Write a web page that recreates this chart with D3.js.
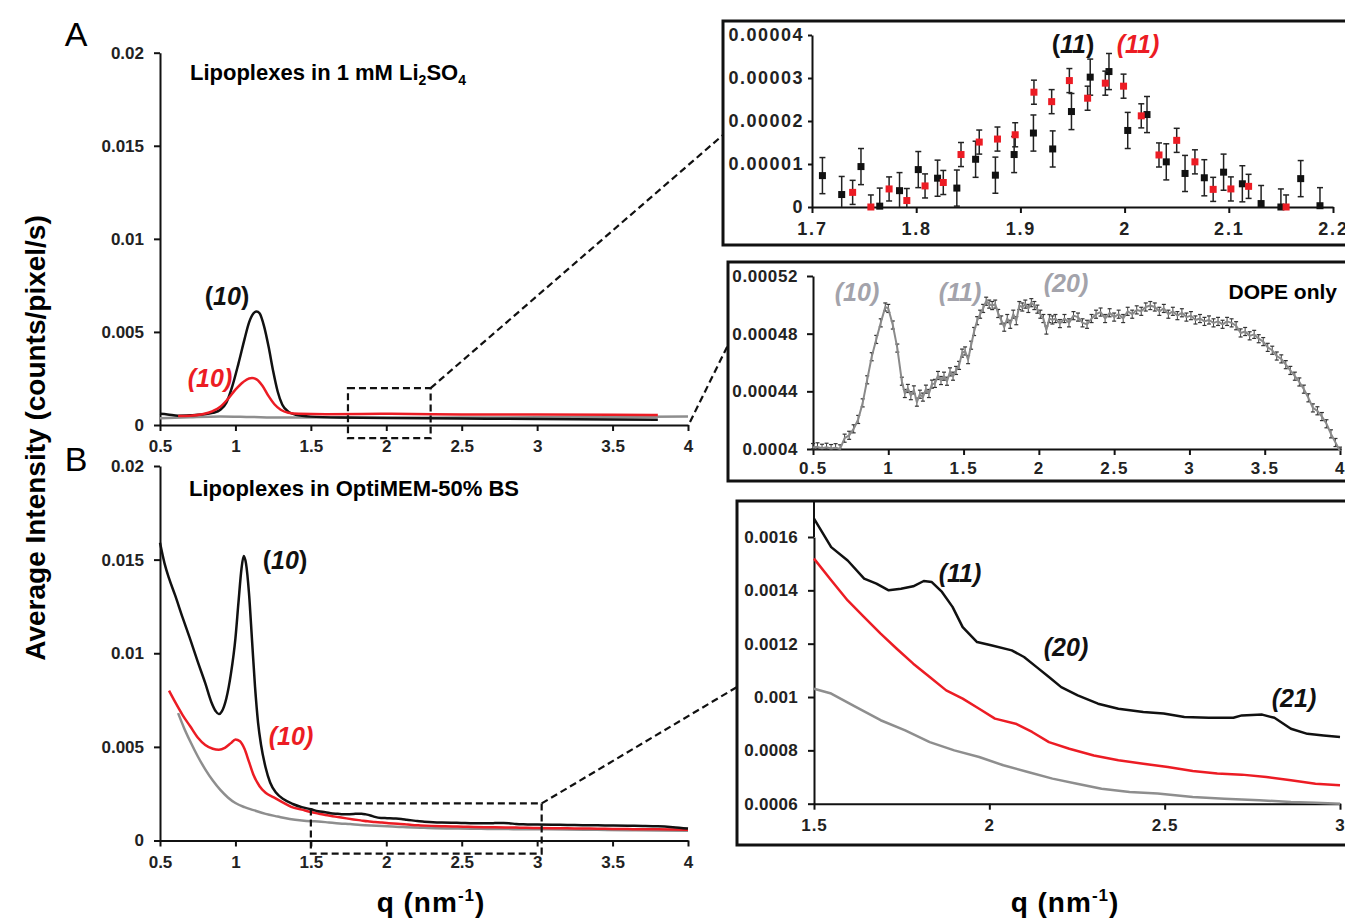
<!DOCTYPE html>
<html>
<head>
<meta charset="utf-8">
<script src="https://cdn.jsdelivr.net/npm/d3@7"></script>
<style>
  body { margin: 0; background: #fff; }
  svg { display: block; font-family: "Liberation Sans", Arial, sans-serif; }
  .axis path, .axis line { stroke: #111; stroke-width: 2; }
  .axis text { font-weight: bold; fill: #222; }
</style>
</head>
<body>
<div id="fig"></div>
<script>
// ---- panel A : lipoplexes in 1 mM Li2SO4 ----
var aBlackQ = [0.50, 0.55, 0.62, 0.70, 0.78, 0.85, 0.90, 0.94, 0.98, 1.02, 1.06, 1.09, 1.12, 1.14, 1.16, 1.19, 1.22, 1.25, 1.28, 1.31, 1.35, 1.40, 1.50, 1.70, 2.00, 2.50, 3.00, 3.50, 3.80];
var aBlackI = [0.0006, 0.00057, 0.0005, 0.00052, 0.00056, 0.00065, 0.00082, 0.0012, 0.0021, 0.0033, 0.0046, 0.0055, 0.0060, 0.0061, 0.0060, 0.0053, 0.0042, 0.0029, 0.0018, 0.0011, 0.00072, 0.00055, 0.00045, 0.0004, 0.00038, 0.00035, 0.00032, 0.0003, 0.00028];
var aRedQ = [0.62, 0.70, 0.78, 0.85, 0.90, 0.95, 1.00, 1.05, 1.09, 1.11, 1.14, 1.18, 1.22, 1.26, 1.30, 1.35, 1.42, 1.60, 2.00, 2.50, 3.00, 3.50, 3.80];
var aRedI = [0.00048, 0.0005, 0.00058, 0.00075, 0.00098, 0.0014, 0.0019, 0.0023, 0.0025, 0.00252, 0.00245, 0.0021, 0.00155, 0.0011, 0.00082, 0.00066, 0.0006, 0.00058, 0.0006, 0.00057, 0.00056, 0.00055, 0.00054];
var aGrayQ = [0.50, 0.70, 0.90, 1.10, 1.30, 1.60, 2.00, 2.50, 3.00, 3.50, 4.00];
var aGrayI = [0.00036, 0.00042, 0.00046, 0.00043, 0.0004, 0.0004, 0.00039, 0.0004, 0.00041, 0.00043, 0.00046];

// ---- panel B : lipoplexes in OptiMEM-50% BS (low q, 1.5-3 from inset, high q) ----
var bBlackLowQ = [0.50, 0.53, 0.56, 0.60, 0.65, 0.70, 0.75, 0.80, 0.84, 0.87, 0.89, 0.91, 0.94, 0.97, 1.00, 1.02, 1.04, 1.055, 1.07, 1.09, 1.11, 1.13, 1.15, 1.17, 1.20, 1.23, 1.27, 1.32, 1.38, 1.44];
var bBlackLowI = [0.0159, 0.0148, 0.0140, 0.0131, 0.0119, 0.01075, 0.00955, 0.0084, 0.0074, 0.0069, 0.00675, 0.0069, 0.0076, 0.0089, 0.0108, 0.0127, 0.0145, 0.0152, 0.0148, 0.0132, 0.0107, 0.0082, 0.0063, 0.0051, 0.0039, 0.0031, 0.00255, 0.0022, 0.00195, 0.00178];
var bRedLowQ = [0.56, 0.60, 0.65, 0.70, 0.75, 0.80, 0.85, 0.89, 0.93, 0.97, 1.00, 1.03, 1.06, 1.09, 1.12, 1.16, 1.20, 1.25, 1.31, 1.37, 1.44];
var bRedLowI = [0.0080, 0.0074, 0.0067, 0.0061, 0.0055, 0.0051, 0.0049, 0.00485, 0.00495, 0.0052, 0.0054, 0.0053, 0.0049, 0.0042, 0.0035, 0.0029, 0.00255, 0.00232, 0.00205, 0.0018, 0.00165];
var bGrayLowQ = [0.62, 0.66, 0.70, 0.75, 0.80, 0.85, 0.90, 0.95, 1.00, 1.06, 1.12, 1.20, 1.28, 1.36, 1.44];
var bGrayLowI = [0.0068, 0.0060, 0.0053, 0.0045, 0.0038, 0.0032, 0.0027, 0.0023, 0.0020, 0.00178, 0.00162, 0.00142, 0.00128, 0.00115, 0.00107];
var bHighQ = [3.1, 3.2, 3.3, 3.4, 3.5, 3.6, 3.7, 3.8, 3.9, 4.0];
var bBlackHighI = [0.00084, 0.00083, 0.00082, 0.00081, 0.0008, 0.00079, 0.00078, 0.00076, 0.00071, 0.00064];
var bRedHighI = [0.00066, 0.00065, 0.00064, 0.00063, 0.00062, 0.00061, 0.0006, 0.0006, 0.00059, 0.00057];
var bGrayHighQ = [3.2, 3.4, 3.6, 3.8, 4.0];
var bGrayHighI = [0.00059, 0.00057, 0.00055, 0.00054, 0.00052];

// ---- zoomed inset of B, q 1.5-3 ----
var insBlackQ = [1.50, 1.549, 1.596, 1.643, 1.678, 1.713, 1.748, 1.783, 1.813, 1.836, 1.865, 1.895, 1.924, 1.965, 2.005, 2.064, 2.099, 2.135, 2.17, 2.205, 2.252, 2.31, 2.368, 2.439, 2.497, 2.556, 2.626, 2.696, 2.72, 2.778, 2.813, 2.86, 2.907, 2.953, 3.0];
var insBlackI = [0.001669, 0.001562, 0.001512, 0.001444, 0.001425, 0.0014, 0.001406, 0.001415, 0.001435, 0.001431, 0.001394, 0.001338, 0.001262, 0.001206, 0.001194, 0.001175, 0.00115, 0.001112, 0.001075, 0.001037, 0.001006, 0.000975, 0.000956, 0.000944, 0.000938, 0.000925, 0.000922, 0.000922, 0.000931, 0.000934, 0.000922, 0.000881, 0.000862, 0.000856, 0.00085];
var insRedQ = [1.5, 1.549, 1.596, 1.643, 1.69, 1.736, 1.783, 1.83, 1.877, 1.924, 1.971, 2.016, 2.075, 2.122, 2.17, 2.228, 2.298, 2.368, 2.439, 2.509, 2.58, 2.65, 2.72, 2.79, 2.86, 2.93, 3.0];
var insRedI = [0.001519, 0.001438, 0.001362, 0.0013, 0.001238, 0.001181, 0.001125, 0.001075, 0.001025, 0.000994, 0.000956, 0.000919, 0.0009, 0.000869, 0.000831, 0.000806, 0.000781, 0.000763, 0.00075, 0.000738, 0.000723, 0.000713, 0.000709, 0.0007, 0.000688, 0.000675, 0.000669];
var insGrayQ = [1.5, 1.549, 1.619, 1.69, 1.76, 1.83, 1.9, 1.971, 2.04, 2.11, 2.18, 2.25, 2.32, 2.4, 2.48, 2.58, 2.67, 2.77, 2.86, 2.93, 3.0];
var insGrayI = [0.001031, 0.001013, 0.000963, 0.000913, 0.000875, 0.000831, 0.0008, 0.000775, 0.000744, 0.000719, 0.000694, 0.000675, 0.000656, 0.000644, 0.000638, 0.000625, 0.000619, 0.000613, 0.000606, 0.000604, 0.0006];

// ---- (11) peak inset of A, with error bars ----
var pkBlackQ = [1.710, 1.7285, 1.747, 1.765, 1.784, 1.802, 1.8205, 1.839, 1.857, 1.876, 1.894, 1.9125, 1.931, 1.949, 1.967, 1.985, 2.003, 2.0215, 2.040, 2.058, 2.0765, 2.095, 2.113, 2.131, 2.150, 2.169, 2.1875];
var pkBlackI = [0.73e-5, 0.29e-5, 0.94e-5, 0.02e-5, 0.38e-5, 0.87e-5, 0.67e-5, 0.44e-5, 1.11e-5, 0.74e-5, 1.22e-5, 1.72e-5, 1.35e-5, 2.22e-5, 3.02e-5, 3.15e-5, 1.78e-5, 2.15e-5, 1.05e-5, 0.78e-5, 0.68e-5, 0.81e-5, 0.54e-5, 0.08e-5, 0, 0.66e-5, 0.03e-5];
var pkRedQ = [1.739, 1.7565, 1.774, 1.791, 1.8085, 1.826, 1.843, 1.8605, 1.878, 1.895, 1.913, 1.930, 1.947, 1.9645, 1.9815, 1.999, 2.016, 2.033, 2.050, 2.0675, 2.085, 2.102, 2.119, 2.155];
var pkRedI = [0.34e-5, 0, 0.42e-5, 0.15e-5, 0.49e-5, 0.57e-5, 1.22e-5, 1.51e-5, 1.58e-5, 1.68e-5, 2.67e-5, 2.45e-5, 2.94e-5, 2.53e-5, 2.88e-5, 2.81e-5, 2.12e-5, 1.21e-5, 1.55e-5, 1.05e-5, 0.41e-5, 0.42e-5, 0.48e-5, 0];
var pkBlackErr = 0.42e-5;
var pkRedErr = 0.28e-5;

// ---- DOPE only ----
var dopeQ = [0.50, 0.53, 0.56, 0.59, 0.62, 0.65, 0.68, 0.71, 0.74, 0.77, 0.80, 0.83, 0.86, 0.89, 0.92, 0.95, 0.98, 1.00, 1.03, 1.06, 1.09, 1.11, 1.13, 1.15, 1.17, 1.19, 1.21, 1.23, 1.25, 1.27, 1.29, 1.31, 1.33, 1.35, 1.37, 1.39, 1.41, 1.43, 1.45, 1.47, 1.49, 1.51, 1.53, 1.55, 1.57, 1.59, 1.61, 1.63, 1.65, 1.67, 1.69, 1.71, 1.73, 1.75, 1.77, 1.79, 1.81, 1.83, 1.85, 1.87, 1.89, 1.91, 1.93, 1.95, 1.97, 1.99, 2.01, 2.03, 2.05, 2.07, 2.09, 2.11, 2.14, 2.17, 2.20, 2.23, 2.26, 2.29, 2.32, 2.35, 2.38, 2.41, 2.44, 2.47, 2.50, 2.53, 2.56, 2.59, 2.62, 2.65, 2.68, 2.71, 2.74, 2.77, 2.80, 2.83, 2.86, 2.89, 2.92, 2.95, 2.98, 3.01, 3.04, 3.07, 3.10, 3.13, 3.16, 3.19, 3.22, 3.25, 3.28, 3.31, 3.34, 3.37, 3.40, 3.43, 3.46, 3.49, 3.52, 3.55, 3.58, 3.61, 3.64, 3.67, 3.70, 3.73, 3.76, 3.79, 3.82, 3.85, 3.88, 3.91, 3.94, 3.97, 4.00];
var dopeI = [0.0004010, 0.0004015, 0.0004005, 0.0004012, 0.0004003, 0.0004009, 0.0004001, 0.0004075, 0.0004095, 0.0004140, 0.0004205, 0.0004320, 0.0004480, 0.0004640, 0.0004760, 0.0004875, 0.0004985, 0.0004975, 0.0004860, 0.0004700, 0.0004470, 0.0004385, 0.0004420, 0.0004370, 0.0004410, 0.0004325, 0.0004380, 0.0004360, 0.0004415, 0.0004385, 0.0004450, 0.0004455, 0.0004510, 0.0004475, 0.0004505, 0.0004470, 0.0004535, 0.0004505, 0.0004545, 0.0004580, 0.0004665, 0.0004680, 0.0004620, 0.0004720, 0.0004815, 0.0004890, 0.0004935, 0.0004975, 0.0005025, 0.0005005, 0.0004995, 0.0005005, 0.0004940, 0.0004895, 0.0004845, 0.0004905, 0.0004865, 0.0004935, 0.0004890, 0.0004995, 0.0004985, 0.0005005, 0.0004975, 0.0005015, 0.0004995, 0.0004970, 0.0004935, 0.0004905, 0.0004825, 0.0004905, 0.0004895, 0.0004905, 0.0004870, 0.0004905, 0.0004875, 0.0004925, 0.0004915, 0.0004875, 0.0004865, 0.0004905, 0.0004935, 0.0004950, 0.0004905, 0.0004945, 0.0004915, 0.0004935, 0.0004905, 0.0004955, 0.0004935, 0.0004965, 0.0004955, 0.0004985, 0.0004995, 0.0004985, 0.0004955, 0.0004975, 0.0004935, 0.0004955, 0.0004925, 0.0004945, 0.0004915, 0.0004925, 0.0004895, 0.0004905, 0.0004885, 0.0004895, 0.0004875, 0.0004885, 0.0004865, 0.0004885, 0.0004875, 0.0004855, 0.0004805, 0.0004815, 0.0004785, 0.0004795, 0.0004765, 0.0004745, 0.0004705, 0.0004685, 0.0004645, 0.0004625, 0.0004585, 0.0004545, 0.0004505, 0.0004465, 0.0004415, 0.0004355, 0.0004285, 0.0004265, 0.0004225, 0.0004175, 0.0004105, 0.0004045, 0.0003985];
var dopeErr = 0.0000028;

// tick values
var mainXTicks = [0.5, 1, 1.5, 2, 2.5, 3, 3.5, 4];
var mainYTicks = [0, 0.005, 0.01, 0.015, 0.02];
var pkXTicks = [1.7, 1.8, 1.9, 2, 2.1, 2.2];
var pkYTicks = [0, 0.00001, 0.00002, 0.00003, 0.00004];
var dopeYTicks = [0.0004, 0.00044, 0.00048, 0.00052];
var insXTicks = [1.5, 2, 2.5, 3];
var insYTicks = [0.0006, 0.0008, 0.001, 0.0012, 0.0014, 0.0016];

var RED = "#ec1c24", GRAY = "#8e8e8e", LABELGRAY = "#a3a3ab";

function zip(q, v) { return q.map(function(d, i) { return [d, v[i]]; }); }

var svg = d3.select("#fig").append("svg").attr("width", 1345).attr("height", 920);

// draw a pair of axes; o = {fs, ls, xPad, yPad, yTick, yTop}
function axes(x, y, xt, yt, o) {
  var yb = y.range()[0];
  var xl = x.range()[0];
  var gx = svg.append("g").attr("class", "axis")
    .attr("transform", "translate(0," + yb + ")")
    .call(d3.axisBottom(x).tickValues(xt).tickFormat(String).tickSize(6).tickSizeOuter(0).tickPadding(o.xPad));
  gx.selectAll("text").style("font-size", o.fs + "px").style("letter-spacing", (o.xls != null ? o.xls : o.ls) + "px");
  var ga = svg.append("g").attr("class", "axis")
    .attr("transform", "translate(" + xl + ",0)")
    .call(d3.axisLeft(y).tickValues(yt).tickFormat(String).tickSize(o.yTick).tickSizeOuter(0).tickPadding(o.yPad));
  ga.selectAll("text").style("font-size", o.fs + "px").style("letter-spacing", o.ls + "px");
  if (o.yTop != null) {
    ga.append("line").attr("x1", 0).attr("x2", 0).attr("y1", o.yTop).attr("y2", y.range()[1])
      .attr("stroke", "#111").attr("stroke-width", 2);
  }
}

function curve(x, y, data, color, width, smooth) {
  var line = d3.line().x(function(d) { return x(d[0]); }).y(function(d) { return y(d[1]); });
  if (smooth) line.curve(d3.curveMonotoneX);
  svg.append("path").datum(data).attr("d", line)
    .attr("fill", "none").attr("stroke", color).attr("stroke-width", width).attr("stroke-linejoin", "round");
}

// text with italic digits, optional upright parentheses
function hkl(xp, yp, txt, color, size, uprightParens) {
  var t = svg.append("text").attr("x", xp).attr("y", yp).attr("text-anchor", "middle")
    .attr("dominant-baseline", "central").style("font-weight", "bold")
    .style("font-size", size + "px").attr("fill", color);
  t.append("tspan").text("(").style("font-style", uprightParens ? "normal" : "italic");
  t.append("tspan").text(txt).style("font-style", "italic");
  t.append("tspan").text(")").style("font-style", uprightParens ? "normal" : "italic");
}

function dashed(x1, y1, x2, y2) {
  svg.append("line").attr("x1", x1).attr("y1", y1).attr("x2", x2).attr("y2", y2)
    .attr("stroke", "#111").attr("stroke-width", 2.2).attr("stroke-dasharray", "7,4");
}

function insetBox(x0, y0, y1) {
  svg.append("rect").attr("x", x0).attr("y", y0).attr("width", 700).attr("height", y1 - y0)
    .attr("fill", "none").attr("stroke", "#111").attr("stroke-width", 3);
}

var mainAx = { fs: 17, ls: 0, xPad: 9, yPad: 10, yTick: 6 };

// ================= Panel A =================
var xA = d3.scaleLinear().domain([0.5, 4]).range([160, 688]);
var yA = d3.scaleLinear().domain([0, 0.02]).range([425, 52.7]);
axes(xA, yA, mainXTicks, mainYTicks, mainAx);
curve(xA, yA, zip(aGrayQ, aGrayI), GRAY, 2.5, true);
curve(xA, yA, zip(aBlackQ, aBlackI), "#111", 2.5, true);
curve(xA, yA, zip(aRedQ, aRedI), RED, 2.5, true);

svg.append("text").attr("x", 76).attr("y", 46).attr("text-anchor", "middle")
  .style("font-size", "34px").text("A");
var tA = svg.append("text").attr("x", 190).attr("y", 80).style("font-weight", "bold").style("font-size", "22px");
tA.append("tspan").text("Lipoplexes in 1 mM Li");
tA.append("tspan").text("2").style("font-size", "14px").attr("dy", 5);
tA.append("tspan").text("SO").attr("dy", -5);
tA.append("tspan").text("4").style("font-size", "14px").attr("dy", 5);
hkl(227, 296, "10", "#111", 25, true);
hkl(210, 378, "10", RED, 25, false);

// zoom rectangle on A
svg.append("rect").attr("x", xA(1.746)).attr("y", yA(0.00198))
  .attr("width", xA(2.294) - xA(1.746)).attr("height", yA(-0.0007) - yA(0.00198))
  .attr("fill", "none").attr("stroke", "#111").attr("stroke-width", 2.2).attr("stroke-dasharray", "7,4");

// ================= Panel B =================
var xB = d3.scaleLinear().domain([0.5, 4]).range([160, 688]);
var yB = d3.scaleLinear().domain([0, 0.02]).range([840.5, 466]);
axes(xB, yB, mainXTicks, mainYTicks, mainAx);
curve(xB, yB, zip(bGrayLowQ, bGrayLowI).concat(zip(insGrayQ, insGrayI), zip(bGrayHighQ, bGrayHighI)), GRAY, 2.5, true);
curve(xB, yB, zip(bRedLowQ, bRedLowI).concat(zip(insRedQ, insRedI), zip(bHighQ, bRedHighI)), RED, 2.5, true);
curve(xB, yB, zip(bBlackLowQ, bBlackLowI).concat(zip(insBlackQ, insBlackI), zip(bHighQ, bBlackHighI)), "#111", 2.5, true);

svg.append("text").attr("x", 76).attr("y", 471).attr("text-anchor", "middle")
  .style("font-size", "34px").text("B");
svg.append("text").attr("x", 189).attr("y", 496).style("font-weight", "bold").style("font-size", "22px")
  .text("Lipoplexes in OptiMEM-50% BS");
hkl(285, 560, "10", "#111", 25, true);
hkl(291, 736, "10", RED, 25, false);

svg.append("rect").attr("x", xB(1.5)).attr("y", yB(0.00198))
  .attr("width", xB(3.03) - xB(1.5)).attr("height", yB(-0.0007) - yB(0.00198))
  .attr("fill", "none").attr("stroke", "#111").attr("stroke-width", 2.2).attr("stroke-dasharray", "7,4");

// shared y title and x titles
svg.append("text").attr("transform", "translate(35,438) rotate(-90)").attr("text-anchor", "middle")
  .attr("dominant-baseline", "central").style("font-weight", "bold").style("font-size", "28px")
  .text("Average Intensity (counts/pixel/s)");
function qTitle(cx) {
  var t = svg.append("text").attr("x", cx).attr("y", 912).attr("text-anchor", "middle")
    .style("font-weight", "bold").style("font-size", "28px").style("letter-spacing", "1px");
  t.append("tspan").text("q (nm");
  t.append("tspan").text("-1").style("font-size", "17px").attr("dy", -11);
  t.append("tspan").text(")").attr("dy", 11);
}
qTitle(431);
qTitle(1065);

// ================= inset: (11) peak =================
insetBox(723, 21, 245);
var xP = d3.scaleLinear().domain([1.7, 2.2]).range([812, 1333]);
var yP = d3.scaleLinear().domain([0, 0.00004]).range([207, 35]);
axes(xP, yP, pkXTicks, pkYTicks, { fs: 18, ls: 1.5, xls: 1.8, xPad: 9, yPad: 4, yTick: 4 });

function errPoints(q, v, err, color) {
  var pts = zip(q, v);
  var g = svg.append("g");
  pts.forEach(function(d) {
    var top = yP(d[1] + err), bot = yP(Math.max(0, d[1] - err)), cx = xP(d[0]);
    g.append("line").attr("x1", cx).attr("x2", cx).attr("y1", top).attr("y2", bot)
      .attr("stroke", "#222").attr("stroke-width", 1.5);
    g.append("line").attr("x1", cx - 3).attr("x2", cx + 3).attr("y1", top).attr("y2", top)
      .attr("stroke", "#222").attr("stroke-width", 1.5);
    if (d[1] - err > 0) {
      g.append("line").attr("x1", cx - 3).attr("x2", cx + 3).attr("y1", bot).attr("y2", bot)
        .attr("stroke", "#222").attr("stroke-width", 1.5);
    }
  });
  g.selectAll("rect").data(pts).enter().append("rect")
    .attr("x", function(d) { return xP(d[0]) - 3.5; })
    .attr("y", function(d) { return yP(d[1]) - 3.5; })
    .attr("width", 7).attr("height", 7).attr("fill", color);
}
errPoints(pkBlackQ, pkBlackI, pkBlackErr, "#111");
errPoints(pkRedQ, pkRedI, pkRedErr, RED);
hkl(1073, 44, "11", "#111", 25, true);
hkl(1138, 44, "11", RED, 25, false);

// ================= inset: DOPE only =================
insetBox(728, 262, 481);
var xD = d3.scaleLinear().domain([0.5, 4]).range([813, 1340]);
var yD = d3.scaleLinear().domain([0.0004, 0.00052]).range([449, 276]);
axes(xD, yD, mainXTicks, dopeYTicks, { fs: 17, ls: 0.6, xls: 1.8, xPad: 7, yPad: 9, yTick: 6 });
var dope = zip(dopeQ, dopeI);
var gd = svg.append("g");
dope.forEach(function(d) {
  var cx = xD(d[0]), top = yD(d[1] + dopeErr), bot = yD(Math.max(0.0004, d[1] - dopeErr));
  gd.append("line").attr("x1", cx).attr("x2", cx).attr("y1", top).attr("y2", bot)
    .attr("stroke", "#444").attr("stroke-width", 1);
  gd.append("line").attr("x1", cx - 2).attr("x2", cx + 2).attr("y1", top).attr("y2", top)
    .attr("stroke", "#333").attr("stroke-width", 1.2);
  gd.append("line").attr("x1", cx - 2).attr("x2", cx + 2).attr("y1", bot).attr("y2", bot)
    .attr("stroke", "#333").attr("stroke-width", 1.2);
});
curve(xD, yD, dope, "#8a8a8a", 2, false);
hkl(857, 292, "10", LABELGRAY, 25, false);
hkl(960, 292, "11", LABELGRAY, 25, false);
hkl(1066, 283, "20", LABELGRAY, 25, false);
svg.append("text").attr("x", 1337).attr("y", 299).attr("text-anchor", "end")
  .style("font-weight", "bold").style("font-size", "21px").text("DOPE only");

// ================= inset: B zoom 1.5-3 =================
insetBox(737, 501, 845);
var xI = d3.scaleLinear().domain([1.5, 3]).range([814, 1340]);
var yI = d3.scaleLinear().domain([0.0006, 0.0016]).range([803.7, 537]);
axes(xI, yI, insXTicks, insYTicks, { fs: 17, ls: 0.3, xls: 1, xPad: 9, yPad: 10, yTick: 6, yTop: 501 });
curve(xI, yI, zip(insGrayQ, insGrayI), GRAY, 2.5, false);
curve(xI, yI, zip(insRedQ, insRedI), RED, 2.5, false);
curve(xI, yI, zip(insBlackQ, insBlackI), "#111", 2.5, false);
hkl(960, 573, "11", "#111", 25, false);
hkl(1066, 647, "20", "#111", 25, false);
hkl(1294, 698, "21", "#111", 25, false);

// ================= connectors =================
dashed(xA(2.294), yA(0.00198), 723, 135);
dashed(xA(4) + 2, yA(0) - 3, 728, 345);
dashed(xB(3.03), yB(0.00198), 737, 687);
</script>
</body>
</html>
